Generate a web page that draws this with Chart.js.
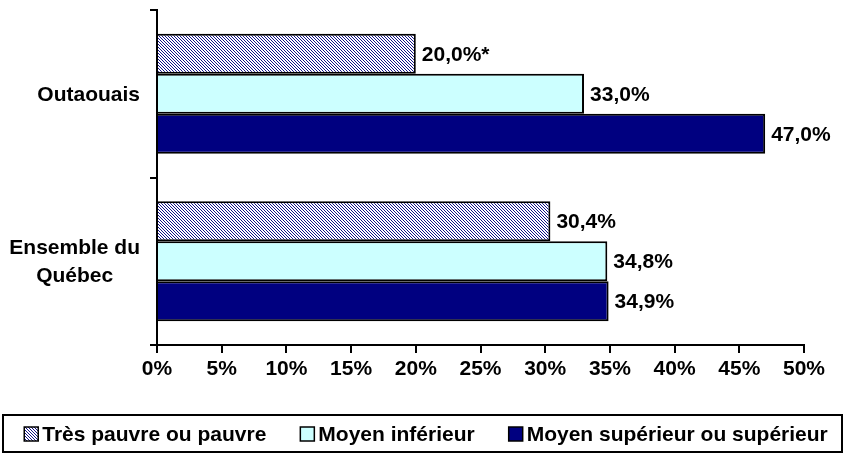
<!DOCTYPE html>
<html>
<head>
<meta charset="utf-8">
<script src="https://cdn.jsdelivr.net/npm/chart.js@4/dist/chart.umd.min.js"></script>
<style>
  html, body { margin: 0; padding: 0; background: #fff; }
  #wrap { width: 846px; height: 456px; position: relative; }
</style>
</head>
<body>
<div id="wrap"><canvas id="chart"></canvas></div>
<script>
/* ================= DATA ================= */
const regions = ["Outaouais", ["Ensemble du", "Québec"]];
const seriesNames = ["Très pauvre ou pauvre", "Moyen inférieur", "Moyen supérieur ou supérieur"];
const pauvre = [20.0, 30.4];
const moyenInf = [33.0, 34.8];
const moyenSup = [47.0, 34.9];
const pauvreMarks = ["*", ""];   // estimate to interpret with caution
const xTicks = [0, 5, 10, 15, 20, 25, 30, 35, 40, 45, 50];

/* ================= HELPERS ================= */
const FONT = "'Liberation Sans', Arial, sans-serif";
const BOLD = "bold 21px " + FONT;

// fine "\" hatch, pixel based so it stays crisp
function hatch() {
  const n = 3;
  const c = document.createElement("canvas");
  c.width = n; c.height = n;
  const g = c.getContext("2d");
  const img = g.createImageData(n, n);
  for (let y = 0; y < n; y++) {
    for (let x = 0; x < n; x++) {
      const k = (y * n + x) * 4;
      const dark = ((x - y + n) % n) === 0;
      img.data[k] = dark ? 0x10 : 0xff;
      img.data[k + 1] = dark ? 0x10 : 0xff;
      img.data[k + 2] = dark ? 0x88 : 0xff;
      img.data[k + 3] = 255;
    }
  }
  g.putImageData(img, 0, 0);
  return g.createPattern(c, "repeat");
}

const fmt = (v) => v.toFixed(1).replace(".", ",") + "%";

/* ---------- value labels at bar ends ---------- */
const valueLabels = {
  id: "valueLabels",
  afterDatasetsDraw(chart) {
    const ctx = chart.ctx;
    ctx.save();
    ctx.font = BOLD;
    ctx.fillStyle = "#000";
    ctx.textAlign = "left";
    ctx.textBaseline = "middle";
    chart.data.datasets.forEach((ds, i) => {
      chart.getDatasetMeta(i).data.forEach((bar, j) => {
        const extra = i === 0 ? pauvreMarks[j] : "";
        ctx.fillText(fmt(ds.data[j]) + extra, bar.x + 6, bar.y + 1);
      });
    });
    ctx.restore();
  }
};

/* ---------- category labels: block right-aligned, lines centred ---------- */
const catLabels = {
  id: "catLabels",
  afterDraw(chart) {
    const ctx = chart.ctx;
    const y = chart.scales.y;
    ctx.save();
    ctx.font = BOLD;
    ctx.fillStyle = "#000";
    ctx.textAlign = "center";
    ctx.textBaseline = "middle";
    chart.data.labels.forEach((lab, i) => {
      const lines = Array.isArray(lab) ? lab : [lab];
      const w = Math.max(...lines.map(l => ctx.measureText(l).width));
      const cx = y.right - 17 - w / 2;
      const cy = y.getPixelForTick(i);
      const lh = 28;
      lines.forEach((l, k) => {
        ctx.fillText(l, cx, cy + (k - (lines.length - 1) / 2) * lh + 1);
      });
    });
    ctx.restore();
  }
};

/* ---------- legend in a frame ---------- */
const boxLegend = {
  id: "boxLegend",
  afterDraw(chart) {
    const ctx = chart.ctx;
    ctx.save();
    ctx.strokeStyle = "#000";
    ctx.lineWidth = 2;
    ctx.strokeRect(3, 415, 839, 37);

    ctx.font = BOLD;
    ctx.textBaseline = "middle";
    ctx.textAlign = "left";
    const sq = 14, gapTxt = 4, gapItem = 34;
    const ds = chart.data.datasets;
    const widths = ds.map(d => ctx.measureText(d.label).width);
    const total = widths.reduce((a, w) => a + sq + gapTxt + w, 0) + gapItem * (ds.length - 1);
    let x = 426 - total / 2;
    const cy = 434;
    ds.forEach((d, i) => {
      ctx.fillStyle = d.backgroundColor;
      ctx.fillRect(x, cy - sq / 2, sq, sq);
      ctx.lineWidth = 1.5;
      ctx.strokeStyle = "#000";
      ctx.strokeRect(x, cy - sq / 2, sq, sq);
      ctx.fillStyle = "#000";
      ctx.fillText(d.label, x + sq + gapTxt, cy + 1);
      x += sq + gapTxt + widths[i] + gapItem;
    });
    ctx.restore();
  }
};

/* ================= CHART ================= */
const bw = 2;
new Chart(document.getElementById("chart"), {
  type: "bar",
  data: {
    labels: regions,
    datasets: [
      { label: seriesNames[0], data: pauvre, backgroundColor: hatch(), borderColor: "#000", borderWidth: bw },
      { label: seriesNames[1], data: moyenInf, backgroundColor: "#ccffff", borderColor: "#000", borderWidth: bw },
      { label: seriesNames[2], data: moyenSup, backgroundColor: "#000080", borderColor: "#000", borderWidth: bw }
    ]
  },
  options: {
    indexAxis: "y",
    responsive: true,
    maintainAspectRatio: false,
    animation: false,
    categoryPercentage: 0.716,
    barPercentage: 1,
    layout: { padding: { left: 0, right: 42, top: 10, bottom: 71 } },
    scales: {
      x: {
        min: 0, max: 50,
        afterBuildTicks: (s) => { s.ticks = xTicks.map(v => ({ value: v })); },
        afterFit: (s) => { s.height = 40; },
        ticks: {
          callback: (v) => v + "%",
          color: "#000",
          font: { family: FONT, size: 21, weight: "bold" },
          padding: 4
        },
        grid: { drawOnChartArea: false, tickLength: 8, color: "#000", lineWidth: 2 },
        border: { color: "#000", width: 2 }
      },
      y: {
        afterFit: (s) => { s.width = 157; },
        ticks: { display: false },
        grid: { offset: true, drawOnChartArea: false, tickLength: 7, color: "#000", lineWidth: 2 },
        border: { color: "#000", width: 2 }
      }
    },
    plugins: {
      legend: { display: false },
      tooltip: { enabled: false }
    }
  },
  plugins: [valueLabels, catLabels, boxLegend]
});
</script>
</body>
</html>
